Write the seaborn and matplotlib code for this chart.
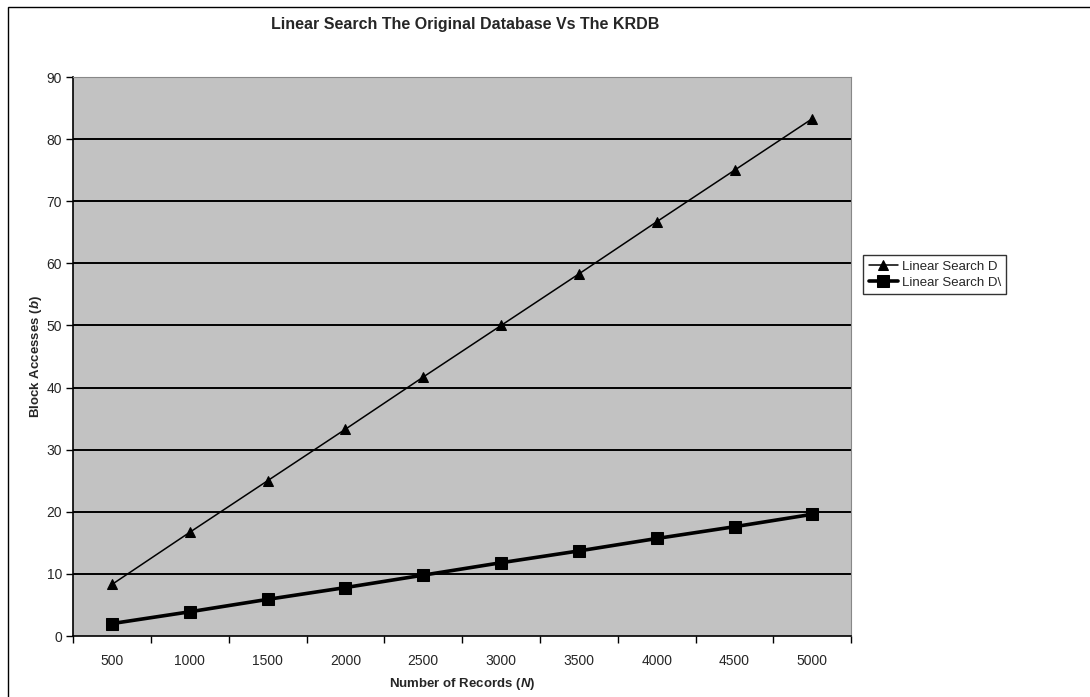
import matplotlib
matplotlib.use("Agg")
import matplotlib.pyplot as plt
import seaborn as sns
import pandas as pd
import numpy as np
from matplotlib.patches import Rectangle
from matplotlib.ticker import FixedLocator

records = ["500", "1000", "1500", "2000", "2500", "3000", "3500", "4000", "4500", "5000"]
search_d = [8.3, 16.7, 25.0, 33.3, 41.7, 50.0, 58.3, 66.7, 75.0, 83.3]
search_krdb = [2.0, 3.9, 5.9, 7.8, 9.8, 11.8, 13.7, 15.7, 17.6, 19.6]
series_names = ["Linear Search D", "Linear Search D\\"]
y_ticks = [0, 10, 20, 30, 40, 50, 60, 70, 80, 90]

sns.set_theme(style="white")
plt.rcParams['font.family'] = ['Liberation Sans', 'DejaVu Sans']
plt.rcParams['mathtext.fontset'] = 'custom'
plt.rcParams['mathtext.it'] = 'Liberation Sans:italic:bold'
plt.rcParams['mathtext.rm'] = 'Liberation Sans:bold'

pos = np.arange(len(records))
df = pd.DataFrame({"pos": pos, "d": search_d, "k": search_krdb})

fig = plt.figure(figsize=(10.9, 6.97), dpi=100)
ax = fig.add_axes([0.067, 0.0875, 0.714, 0.802])
ax.set_facecolor('#c2c2c2')

for y in y_ticks[1:-1]:
    ax.axhline(y, color='black', lw=1.4, zorder=1)

sns.lineplot(data=df, x="pos", y="d", ax=ax, color='black', lw=1.1,
             marker='^', markersize=6.5, markeredgecolor='black',
             label=series_names[0], zorder=3)
sns.lineplot(data=df, x="pos", y="k", ax=ax, color='black', lw=2.6,
             marker='s', markersize=9, markeredgecolor='black',
             label=series_names[1], zorder=3)

ax.set_xlim(-0.5, len(records) - 0.5)
ax.set_ylim(0, 90)
ax.set_yticks(y_ticks)
ax.set_yticklabels([str(v) for v in y_ticks], fontsize=10)
ax.set_xticks(pos)
ax.set_xticklabels(records, fontsize=10)
ax.xaxis.set_minor_locator(FixedLocator(np.arange(-0.5, len(records), 1.0)))
ax.tick_params(axis='x', which='major', length=0, pad=13)
ax.tick_params(axis='x', which='minor', length=5, width=1, color='black', direction='out', bottom=True)
ax.tick_params(axis='y', which='major', length=5, width=1, color='black', direction='out', left=True, pad=3)

for s in ['left', 'bottom']:
    ax.spines[s].set_color('black')
    ax.spines[s].set_linewidth(1.2)
for s in ['top', 'right']:
    ax.spines[s].set_color('#888888')
    ax.spines[s].set_linewidth(0.8)

ax.set_xlabel(r'Number of Records ($\mathit{N}$)', fontsize=9.5, fontweight='bold', labelpad=6)
ax.set_ylabel(r'Block Accesses ($\mathit{b}$)', fontsize=9.5, fontweight='bold')
ax.yaxis.set_label_coords(-0.037, 0.5)
fig.suptitle('Linear Search The Original Database Vs The KRDB', x=0.427, y=0.975,
             fontsize=11.5, fontweight='bold')

ax.legend_.remove()
handles, labels = ax.get_legend_handles_labels()
leg = fig.legend(handles, labels, loc='center left', bbox_to_anchor=(0.786, 0.606),
                 frameon=True, fancybox=False, fontsize=9.5, handlelength=2.2,
                 borderpad=0.4, labelspacing=0.3, handletextpad=0.3)
leg.get_frame().set_edgecolor('black')
leg.get_frame().set_linewidth(1.0)

fig.patches.append(Rectangle((0.007, -0.01), 1.1, 1.0, transform=fig.transFigure,
                             fill=False, edgecolor='black', lw=1.0))

fig.savefig('out.png', dpi=100)
